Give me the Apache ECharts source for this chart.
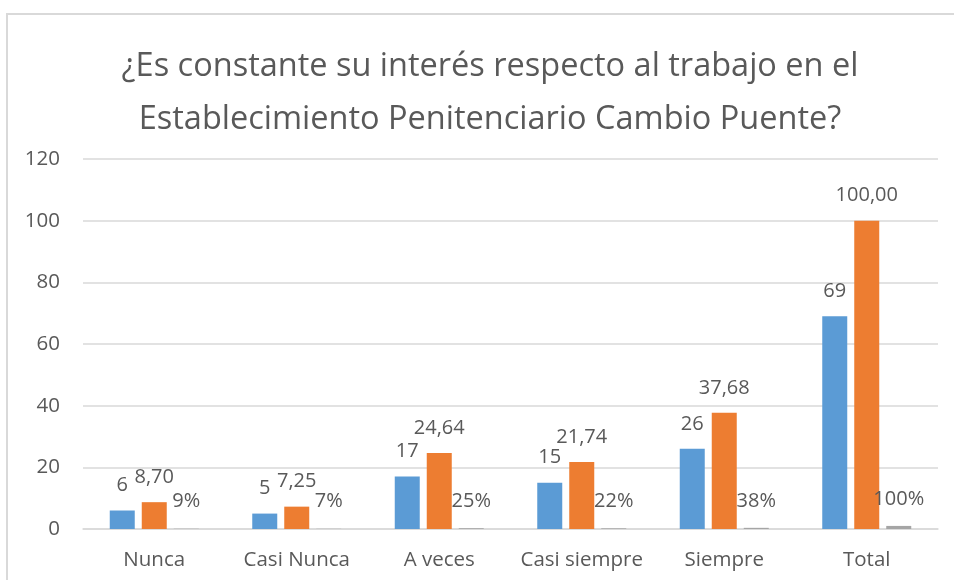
<!DOCTYPE html>
<html>
<head>
<meta charset="utf-8">
<script src="https://cdn.jsdelivr.net/npm/echarts@6/dist/echarts.min.js"></script>
<style>
  html, body { margin: 0; padding: 0; background: #fff; }
  #chart { width: 954px; height: 580px; }
</style>
</head>
<body>
<div id="chart"></div>
<script>
var categories = ['Nunca', 'Casi Nunca', 'A veces', 'Casi siempre', 'Siempre', 'Total'];
var frecuencia = [6, 5, 17, 15, 26, 69];
var porcentaje = [8.70, 7.25, 24.64, 21.74, 37.68, 100.00];
var proporcion = [0.09, 0.07, 0.25, 0.22, 0.38, 1.00];
var yTicks = [0, 20, 40, 60, 80, 100, 120];

(function () {
  var chartDom = document.getElementById('chart');
  var myChart = echarts.init(chartDom);
  var fontFamily = '"Open Sans", sans-serif';
  var textColor = '#595959';

  var labelStyle = {
    show: true,
    position: 'top',
    distance: 5,
    offset: [0, -10],
    color: textColor,
    fontSize: 20,
    fontFamily: fontFamily
  };

  var option = {
    animation: false,
    title: {
      text: '¿Es constante su interés respecto al trabajo en el\nEstablecimiento Penitenciario Cambio Puente?',
      left: 485,
      textAlign: 'center',
      top: 35,
      textStyle: {
        color: textColor,
        fontSize: 32.5,
        fontWeight: 'normal',
        fontFamily: fontFamily,
        lineHeight: 53
      }
    },
    graphic: [
      {
        // marco del gráfico
        type: 'rect',
        shape: { x: 7, y: 14, width: 1100, height: 700 },
        style: { fill: 'none', stroke: '#d9d9d9', lineWidth: 2 },
        silent: true
      }
    ],
    grid: {
      left: 83,
      right: 16,
      top: 159,
      bottom: 51
    },
    xAxis: {
      type: 'category',
      data: categories,
      axisTick: { show: false },
      axisLine: { lineStyle: { color: '#d9d9d9', width: 1.5 } },
      axisLabel: {
        interval: 0,
        color: textColor,
        fontSize: 20.5,
        fontFamily: fontFamily,
        margin: 21
      }
    },
    yAxis: {
      type: 'value',
      min: yTicks[0],
      max: yTicks[yTicks.length - 1],
      interval: yTicks[1] - yTicks[0],
      axisLine: { show: false },
      axisTick: { show: false },
      axisLabel: {
        color: textColor,
        fontSize: 20.5,
        fontFamily: fontFamily,
        margin: 23
      },
      splitLine: { lineStyle: { color: '#d9d9d9', width: 1.5 } }
    },
    series: [
      {
        name: 'Frecuencia',
        type: 'bar',
        data: frecuencia,
        barWidth: 25,
        barGap: '28%',
        itemStyle: { color: '#5b9bd5' },
        label: Object.assign({}, labelStyle, {
          formatter: function (p) { return String(p.value); }
        })
      },
      {
        name: 'Porcentaje',
        type: 'bar',
        data: porcentaje,
        barWidth: 25,
        barGap: '28%',
        itemStyle: { color: '#ed7d31' },
        label: Object.assign({}, labelStyle, {
          formatter: function (p) { return p.value.toFixed(2).replace('.', ','); }
        })
      },
      {
        name: 'Proporción',
        type: 'bar',
        data: proporcion,
        barWidth: 25,
        barGap: '28%',
        itemStyle: { color: '#a5a5a5' },
        label: Object.assign({}, labelStyle, {
          offset: [0, -12],
          formatter: function (p) { return Math.round(p.value * 100) + '%'; }
        })
      }
    ]
  };

  option && myChart.setOption(option);
})();
</script>
</body>
</html>
